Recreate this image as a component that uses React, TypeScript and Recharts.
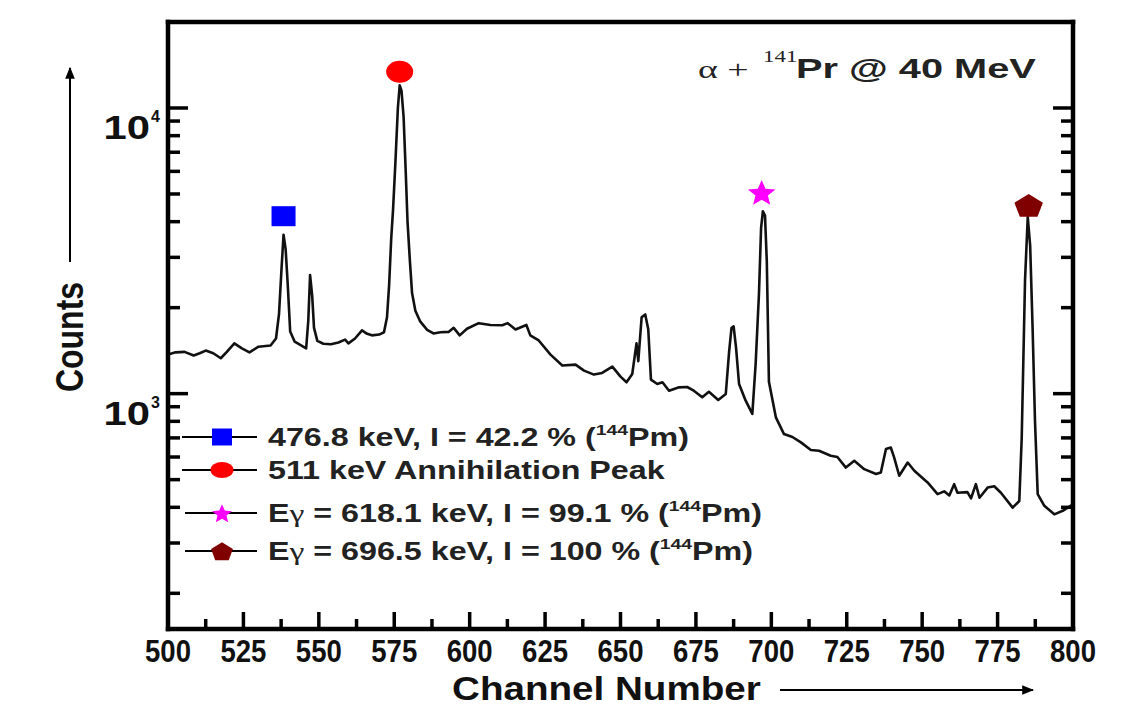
import { ComposedChart, Line, XAxis, YAxis, ReferenceDot } from 'recharts';

// spectrum trace
const CHANNELS = [
  500, 502.5, 505.5, 508.5, 510.5, 512.5, 515, 517.5, 519.5, 522, 524.5, 527, 530, 534, 535.8, 536.8, 537.6, 538.3,
  539, 539.7, 540.5, 542, 544.4, 545.8, 546.5, 547.1, 547.8, 548.4, 549.5, 551.5, 554, 556.5, 558.7, 559.8, 562,
  564.3, 566, 567.6, 570, 571.6, 572.6, 573.3, 574, 574.6, 575.4, 576.2, 576.8, 577.4, 578.1, 578.8, 579.4, 580.2,
  580.9, 582, 583.6, 585.9, 588, 590.3, 593, 594.7, 596.7, 599.1, 603, 606.9, 610.8, 612.6, 615.2, 618.8, 620.1,
  622.9, 626.8, 630.7, 635.1, 637.9, 641.2, 643.9, 647.3, 650, 652, 653.9, 655.3, 655.9, 657, 658.2, 659.2, 660.1,
  662.2, 663.9, 666.1, 669.4, 672.1, 674.3, 677.1, 679.3, 682.4, 684.9, 686, 686.8, 687.5, 688.3, 689.3, 691.5,
  693.7, 694.8, 695.9, 696.6, 697.2, 697.9, 698.5, 699.2, 701.5, 704.2, 707, 709.8, 713.1, 715.8, 719.7, 721.9,
  724.7, 727.5, 730.8, 734.7, 736.3, 738, 739.6, 740.7, 742.4, 745.2, 747.4, 751.8, 755.1, 757.3, 759, 760.6, 761.7,
  765, 766.2, 767.8, 769, 771.7, 773.9, 776.1, 780, 782.2, 783, 784.1, 785, 785.8, 786.6, 787.4, 788.3, 790.5,
  793.8, 796.6, 800,
];
const COUNTS = [
  1370, 1395, 1400, 1360, 1385, 1415, 1385, 1330, 1400, 1500, 1440, 1395, 1460, 1475, 1560, 1900, 2700, 3600,
  3200, 2400, 1650, 1520, 1470, 1440, 1800, 2600, 2200, 1700, 1530, 1495, 1490, 1510, 1545, 1500, 1560,
  1665, 1620, 1600, 1610, 1640, 1850, 2400, 3500, 4400, 6500, 10000, 12000, 11500, 9300, 6000, 4000, 2900,
  2250, 1950, 1790, 1673, 1625, 1640, 1645, 1700, 1600, 1687, 1765, 1740, 1735, 1765, 1677, 1740, 1600,
  1535, 1370, 1254, 1264, 1204, 1166, 1182, 1244, 1147, 1096, 1172, 1500, 1300, 1850, 1894, 1680, 1120,
  1081, 1096, 1024, 1052, 1055, 1024, 971, 1015, 950, 997, 1400, 1700, 1720, 1450, 1081, 945,
  849, 1271, 2238, 3800, 4350, 4200, 2900, 1100, 826, 722, 705, 675, 635, 631, 606, 600,
  551, 582, 544, 523, 530, 640, 648, 598, 516, 574, 537, 489, 445, 455, 440, 482, 450,
  452, 430, 482, 432, 469, 474, 450, 399, 421, 700, 2500, 4150, 3300, 1708, 804, 445, 405,
  378, 389, 410,
];

const MARKER_KINDS = ['square', 'circle', 'star', 'pentagon'];
const MARKER_CH = [538.3, 576.8, 696.8, 785.3];
const MARKER_VAL = [4180, 13400, 5080, 4570];

const X_TICKS = [
  500, 512.5, 525, 537.5, 550, 562.5, 575, 587.5, 600, 612.5, 625, 637.5, 650, 662.5, 675, 687.5, 700, 712.5,
  725, 737.5, 750, 762.5, 775, 787.5, 800,
];
const Y_TICKS = [200, 300, 400, 500, 600, 700, 800, 900, 1000, 2000, 3000, 4000, 5000, 6000, 7000, 8000, 9000, 10000];
const Y_LABELS: Record<number, string> = { 1000: '3', 10000: '4' };

const LEGEND_PRE = ['', '', 'E', 'E'];
const LEGEND_MAIN = ['476.8 keV, I = 42.2 % (', '511 keV Annihilation Peak', ' = 618.1 keV, I = 99.1 % (', ' = 696.5 keV, I = 100 % ('];
const LEGEND_SUP = ['144', '', '144', '144'];

const W = 1137;
const H = 717;
const LEFT = 168;
const RIGHT = 1073;
const TOP = 22;
const BOTTOM = 629;

const SANS = '"Liberation Sans", Arial, Helvetica, sans-serif';
const SERIF = '"Liberation Serif", "Times New Roman", serif';

const spectrum = CHANNELS.map((ch, i) => ({ ch, val: COUNTS[i] }));

function polygon(cx: number, cy: number, w: number, h: number, n: number, inner: number) {
  const pts: string[] = [];
  const steps = inner > 0 ? n * 2 : n;
  for (let i = 0; i < steps; i++) {
    const a = -Math.PI / 2 + (i * 2 * Math.PI) / steps;
    const r = inner > 0 && i % 2 === 1 ? inner : 1;
    pts.push(`${cx + (Math.cos(a) * r * w) / 2},${cy + (Math.sin(a) * r * h) / 2 + h * 0.06}`);
  }
  return pts.join(' ');
}

function Marker({ kind, cx, cy, w, h }: { kind: string; cx: number; cy: number; w: number; h: number }) {
  if (kind === 'square') return <rect x={cx - w / 2} y={cy - h / 2} width={w} height={h} fill="#0000ff" />;
  if (kind === 'circle') return <ellipse cx={cx} cy={cy} rx={w / 2} ry={h / 2} fill="#ff0000" />;
  if (kind === 'star') return <polygon points={polygon(cx, cy, w, h * 1.1, 5, 0.45)} fill="#ff00ff" />;
  return <polygon points={polygon(cx, cy, w, h * 1.05, 5, 0)} fill="#800000" />;
}

const MARKER_SIZE: Record<string, [number, number]> = {
  square: [24, 20], circle: [27, 22], star: [29, 25], pentagon: [30, 24],
};
const LEGEND_SIZE: Record<string, [number, number]> = {
  square: [20, 17], circle: [23, 16], star: [21, 18], pentagon: [23, 19],
};

function BottomTick(props: any) {
  const { x, payload } = props;
  const v = payload.value;
  const major = v % 25 === 0;
  return (
    <g>
      <line x1={x} x2={x} y1={BOTTOM} y2={BOTTOM - (major ? 17 : 10)} stroke="#000" strokeWidth={3.5} />
      {major && (
        <g transform={`translate(${x},662) scale(0.95,1.05)`}>
          <text x={0} y={0} textAnchor="middle" fontFamily={SANS} fontWeight="bold" fontSize={29} fill="#111">{v}</text>
        </g>
      )}
    </g>
  );
}

function TopTick(props: any) {
  const { x, payload } = props;
  const major = payload.value % 25 === 0;
  return <line x1={x} x2={x} y1={TOP} y2={TOP + (major ? 14 : 9)} stroke="#000" strokeWidth={3.5} />;
}

function LeftTick(props: any) {
  const { y, payload } = props;
  const v = payload.value;
  const exp = Y_LABELS[v];
  return (
    <g>
      <line x1={LEFT} x2={LEFT + (exp ? 20 : 12)} y1={y} y2={y} stroke="#000" strokeWidth={3.5} />
      {exp && (
        <g>
          <g transform={`translate(150,${y + 31}) scale(1.23,1)`}>
            <text x={0} y={0} textAnchor="end" fontFamily={SANS} fontWeight="bold" fontSize={34} fill="#111">10</text>
          </g>
          <text x={151} y={y + 14} fontFamily={SANS} fontWeight="bold" fontSize={16} fill="#111">{exp}</text>
        </g>
      )}
    </g>
  );
}

function RightTick(props: any) {
  const { y, payload } = props;
  const major = !!Y_LABELS[payload.value];
  return <line x1={RIGHT} x2={RIGHT - (major ? 20 : 12)} y1={y} y2={y} stroke="#000" strokeWidth={3.5} />;
}

const frame = { stroke: '#000', strokeWidth: 4.5, strokeLinecap: 'square' as const };

function Overlay() {
  const rows = [437, 470, 513, 551];
  return (
    <svg width={W} height={H} style={{ position: 'absolute', left: 0, top: 0, pointerEvents: 'none' }}>
      <defs>
        <marker id="arr" viewBox="0 0 10 10" refX="9" refY="5" markerWidth="6" markerHeight="6" orient="auto">
          <path d="M0,1 L10,5 L0,9 z" fill="#000" />
        </marker>
      </defs>
      {/* title */}
      <g transform="translate(698,78) scale(1.45,1)">
        <text x={0} y={0} fontFamily={SERIF} fontSize={26} fill="#222">{'\u03b1 +'}</text>
      </g>
      <g transform="translate(763,62) scale(1.35,1)">
        <text x={0} y={0} fontFamily={SERIF} fontSize={17} fill="#222">141</text>
      </g>
      <g transform="translate(796,78) scale(1.42,1)">
        <text x={0} y={0} fontFamily={SANS} fontWeight="bold" fontSize={28} fill="#222">Pr @ 40 MeV</text>
      </g>

      {/* y label and arrow */}
      <g transform="translate(83,337) rotate(-90) scale(1,1.22)">
        <text x={0} y={0} textAnchor="middle" fontFamily={SANS} fontWeight="bold" fontSize={32} fill="#111">Counts</text>
      </g>
      <line x1={70} x2={70} y1={262} y2={68} stroke="#000" strokeWidth={2} markerEnd="url(#arr)" />

      {/* x label and arrow */}
      <g transform="translate(452,700) scale(1.17,1)">
        <text x={0} y={0} fontFamily={SANS} fontWeight="bold" fontSize={33} fill="#111">Channel Number</text>
      </g>
      <line x1={780} x2={1033} y1={690} y2={690} stroke="#000" strokeWidth={2} markerEnd="url(#arr)" />

      {/* legend */}
      {MARKER_KINDS.map((k, i) => {
        const y = rows[i];
        const [w, h] = LEGEND_SIZE[k];
        return (
          <g key={k}>
            <line x1={i < 2 ? 182 : 185} x2={257} y1={y} y2={y} stroke="#000" strokeWidth={2} />
            <Marker kind={k} cx={222} cy={y} w={w} h={h} />
            <g transform={`translate(268,${y + 9}) scale(1.29,1)`}>
              <text x={0} y={0} fontFamily={SANS} fontWeight="bold" fontSize={25} fill="#222">
                {LEGEND_PRE[i]}
                {LEGEND_PRE[i] && <tspan fontFamily={SERIF} fontWeight="normal" fontSize={26}>{'\u03b3'}</tspan>}
                {LEGEND_MAIN[i]}
                {LEGEND_SUP[i] && (
                  <>
                    <tspan fontSize={15} dy={-11}>{LEGEND_SUP[i]}</tspan>
                    <tspan fontSize={25} dy={11}>Pm)</tspan>
                  </>
                )}
              </text>
            </g>
          </g>
        );
      })}
    </svg>
  );
}

export default function App() {
  return (
    <div style={{ position: 'absolute', left: 0, top: 0, width: W, height: H, background: '#fff' }}>
      <ComposedChart
        width={W}
        height={H}
        data={spectrum}
        margin={{ top: TOP - 1, right: W - RIGHT - 1, bottom: H - BOTTOM - 1, left: LEFT - 1 }}
      >
        <XAxis
          dataKey="ch" type="number" domain={[500, 800]} ticks={X_TICKS} interval={0} allowDataOverflow
          height={1} tickSize={0} tickMargin={0} tickLine={false} axisLine={frame} tick={<BottomTick />}
        />
        <XAxis
          xAxisId="top" orientation="top" type="number" domain={[500, 800]} ticks={X_TICKS} interval={0} allowDataOverflow
          height={1} tickSize={0} tickMargin={0} tickLine={false} axisLine={frame} tick={<TopTick />}
        />
        <YAxis
          dataKey="val" type="number" scale="log" domain={[150, 20000]} ticks={Y_TICKS} interval={0} allowDataOverflow
          width={1} tickSize={0} tickMargin={0} tickLine={false} axisLine={frame} tick={<LeftTick />}
        />
        <YAxis
          yAxisId="right" orientation="right" type="number" scale="log" domain={[150, 20000]} ticks={Y_TICKS} interval={0}
          allowDataOverflow width={1} tickSize={0} tickMargin={0} tickLine={false} axisLine={frame} tick={<RightTick />}
        />
        <Line
          dataKey="val" type="linear" stroke="#111" strokeWidth={2.6} dot={false} isAnimationActive={false}
          strokeLinejoin="round"
        />
        {MARKER_KINDS.map((k, i) => (
          <ReferenceDot
            key={k}
            x={MARKER_CH[i]}
            y={MARKER_VAL[i]}
            r={12}
            ifOverflow="visible"
            shape={(p: any) => <Marker kind={k} cx={p.cx} cy={p.cy} w={MARKER_SIZE[k][0]} h={MARKER_SIZE[k][1]} />}
          />
        ))}
      </ComposedChart>
      <Overlay />
    </div>
  );
}
